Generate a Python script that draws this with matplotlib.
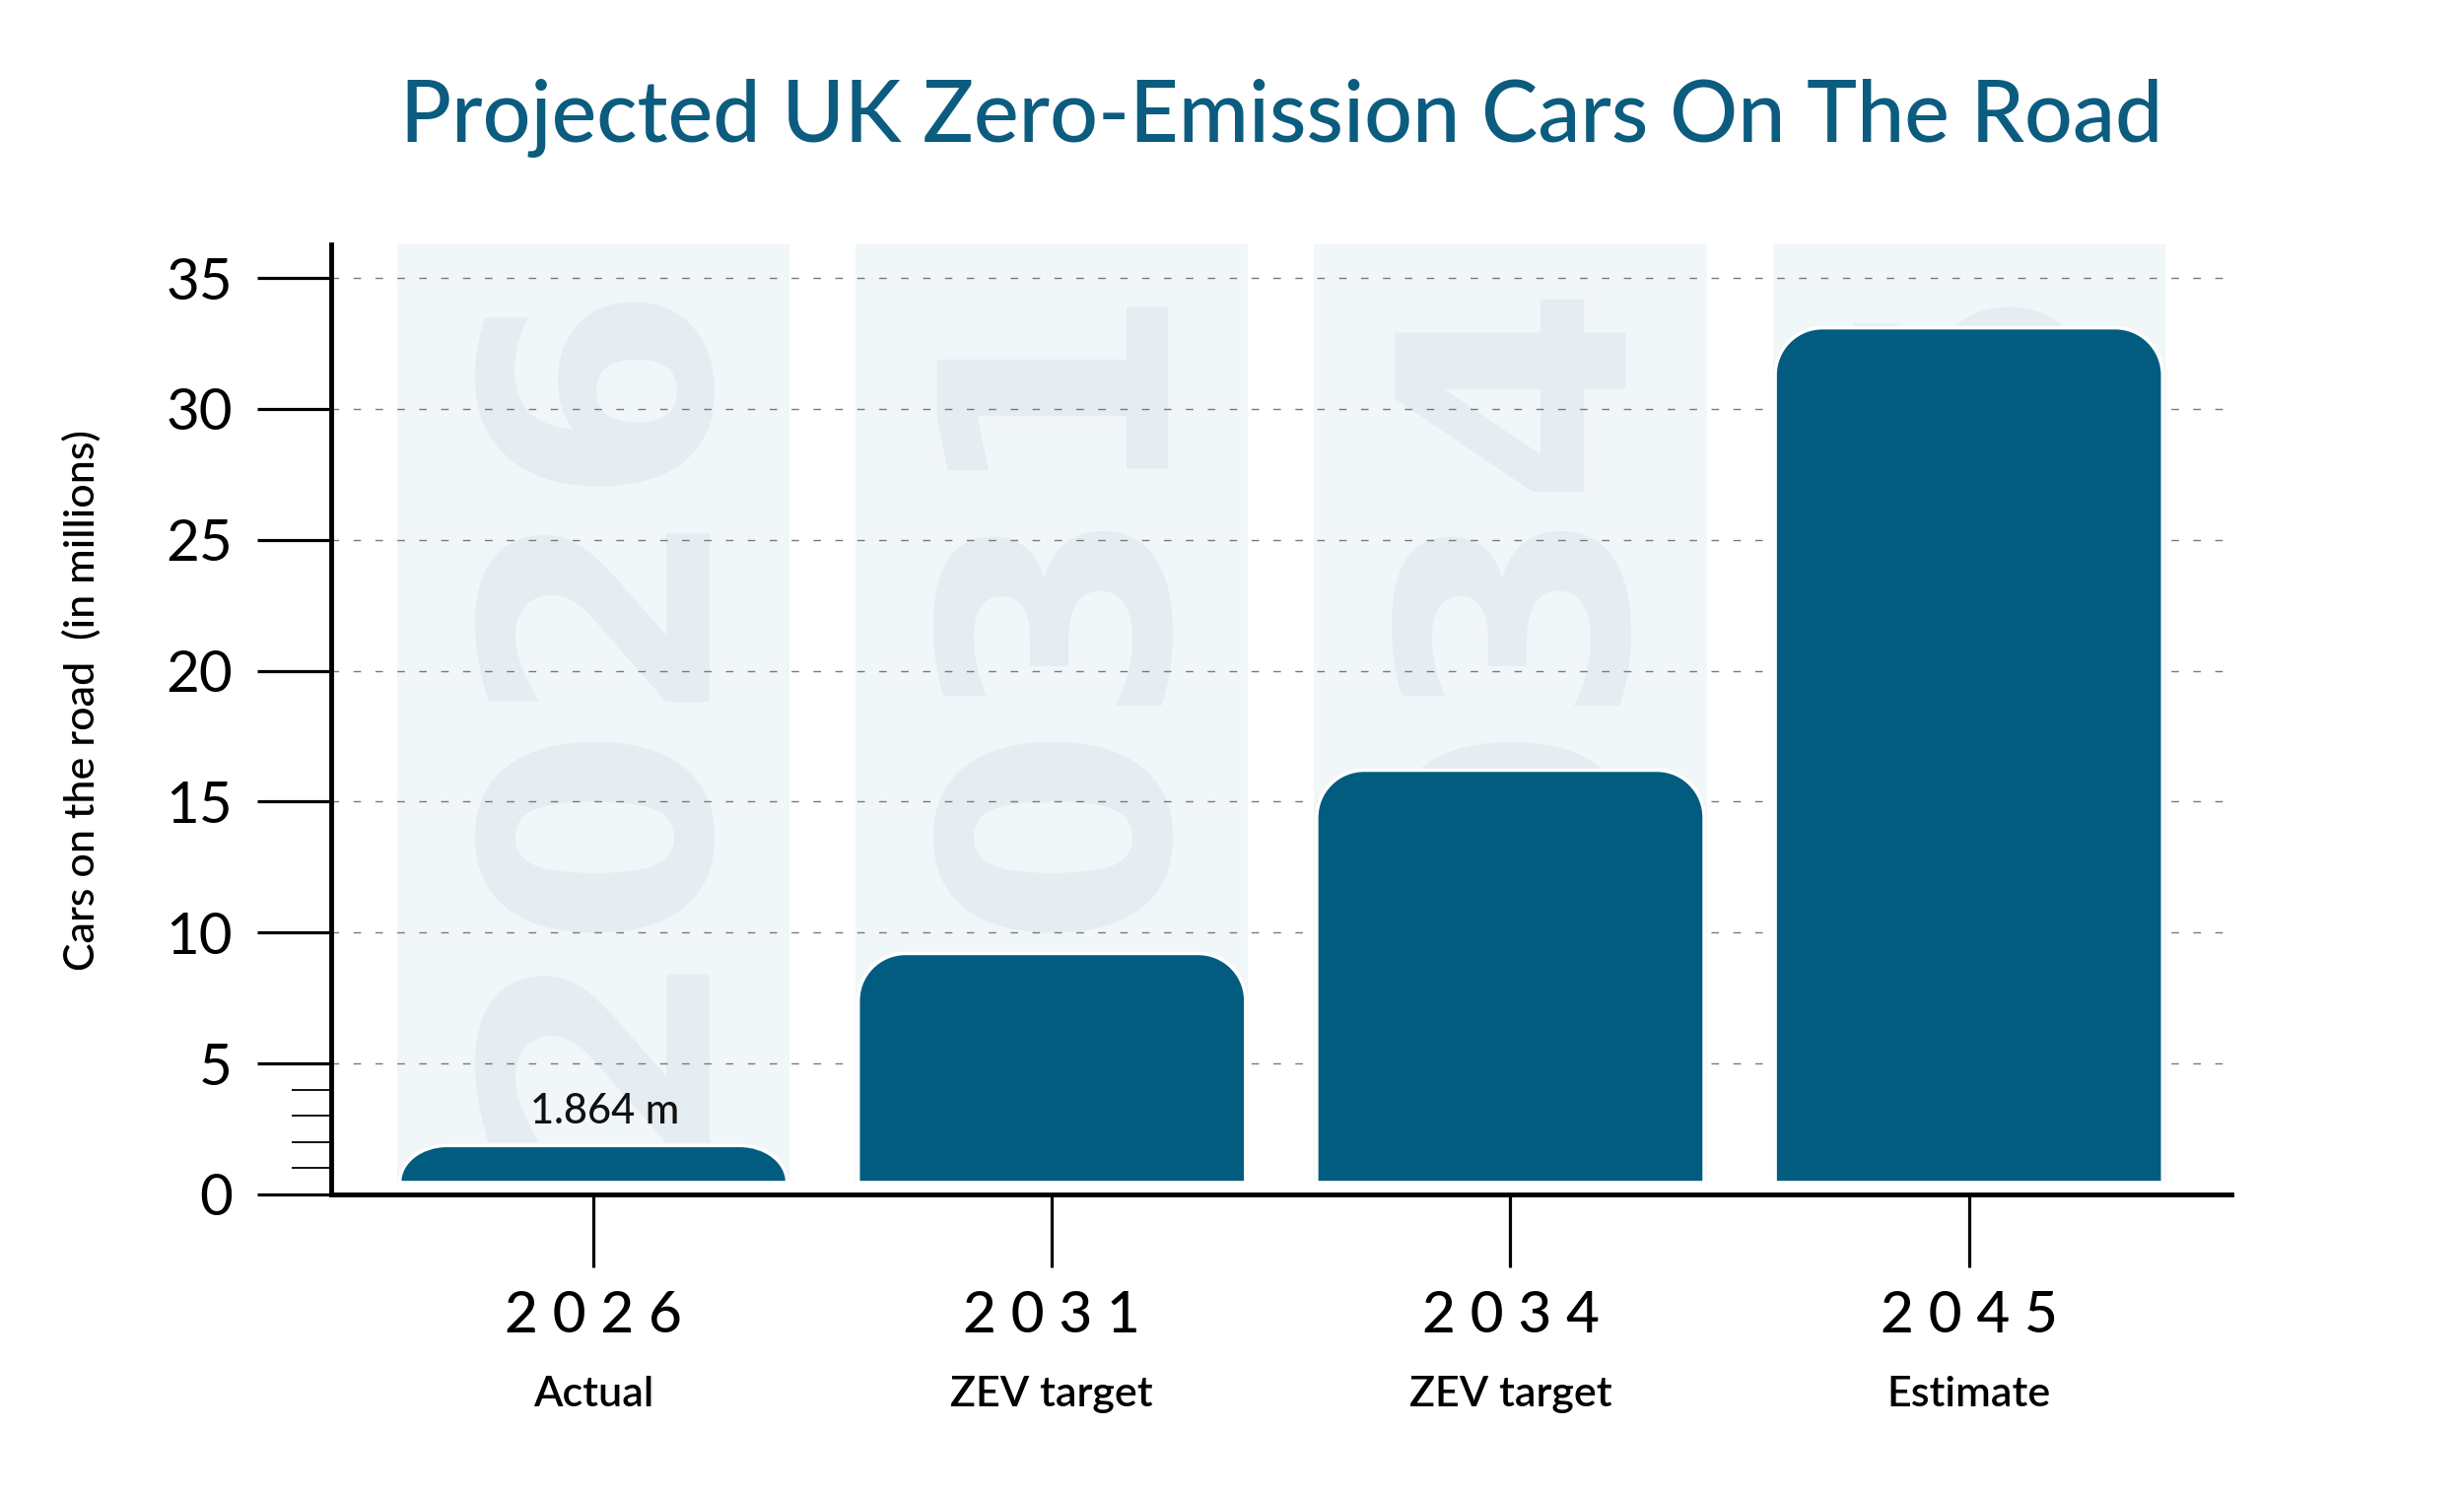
import numpy as np
import matplotlib
matplotlib.use("Agg")
import matplotlib.pyplot as plt
from matplotlib.path import Path
from matplotlib.patches import PathPatch, Rectangle

# data
years = ["2026", "2031", "2034", "2045"]
notes = ["Actual", "ZEV target", "ZEV target", "Estimate"]
cars_m = [1.864, 9.2, 16.2, 33.1]
value_label = "1.864 m"

BLUE = "#015c80"
TITLE_BLUE = "#0b5c7f"
BAND = "#f1f6f9"
BAND_TEXT = "#e5edf2"

plt.rcParams["font.family"] = ["Lato", "DejaVu Sans"]


def top_rounded_bar(ax, x, w, y0, y1, r_px, **kw):
    # rounded top corners, radius given in pixels
    sx = ax.transData.transform([(1, 0)])[0][0] - ax.transData.transform([(0, 0)])[0][0]
    sy = ax.transData.transform([(0, 1)])[0][1] - ax.transData.transform([(0, 0)])[0][1]
    rx = r_px / sx
    ry = min(r_px / sy, y1 - y0)
    k = 0.5523
    l, r = x - w / 2, x + w / 2
    verts = [(l, y0), (l, y1 - ry),
             (l, y1 - ry + k * ry), (l + rx - k * rx, y1), (l + rx, y1),
             (r - rx, y1),
             (r - rx + k * rx, y1), (r, y1 - ry + k * ry), (r, y1 - ry),
             (r, y0), (l, y0)]
    codes = [Path.MOVETO, Path.LINETO,
             Path.CURVE4, Path.CURVE4, Path.CURVE4,
             Path.LINETO,
             Path.CURVE4, Path.CURVE4, Path.CURVE4,
             Path.LINETO, Path.CLOSEPOLY]
    p = PathPatch(Path(verts, codes), **kw)
    ax.add_patch(p)
    return p


fig = plt.figure(figsize=(25, 15.19), dpi=100)
ax = fig.add_axes([0.1344, 0.2022, 0.7711, 0.6348])
ax.set_xlim(-0.572, 3.572)
ax.set_ylim(0, 36.3)

xs = np.arange(len(years))
base = 0.45
for i, x in enumerate(xs):
    band = Rectangle((x - 0.428, base), 0.856, 36.3 - base, facecolor=BAND,
                     edgecolor="none", zorder=0.2)
    ax.add_patch(band)
    t = ax.text(x + 0.01, 2.0, years[i], rotation=90, ha="center", va="bottom",
                fontsize=232, fontweight="bold", color=BAND_TEXT,
                family="DejaVu Sans", zorder=0.3)
    t.set_clip_path(band)
    top_rounded_bar(ax, x, 0.845, base, cars_m[i], 48, facecolor=BLUE,
                    edgecolor="white", linewidth=2.5, zorder=3)

ax.annotate(value_label, (xs[0], cars_m[0]), xytext=(8, 25), textcoords="offset points",
            ha="center", va="center", fontsize=30, fontweight="medium", color="#111111")

# grid
ax.set_axisbelow(True)
ax.yaxis.grid(True, color="#7a7a7a", linewidth=1.0, dashes=(5.5, 10.5))

# axes styling
for s in ["top", "right"]:
    ax.spines[s].set_visible(False)
for s in ["left", "bottom"]:
    ax.spines[s].set_linewidth(3.5)
    ax.spines[s].set_color("black")

ax.set_yticks(np.arange(0, 36, 5))
ax.set_yticks([1, 2, 3, 4], minor=True)
ax.tick_params(axis="y", which="major", length=54, width=2.3, pad=18, labelsize=42)
ax.tick_params(axis="y", which="minor", length=29, width=1.3)
ax.set_xticks(xs)
ax.set_xticklabels([""] * len(xs))
ax.tick_params(axis="x", which="major", length=53, width=2.3)

for x, yr, nt in zip(xs, years, notes):
    ax.annotate(" ".join(yr), (x, 0), xycoords=("data", "axes fraction"),
                xytext=(0, -89), textcoords="offset points", ha="center", va="center",
                fontsize=42, fontweight="medium", color="black")
    ax.annotate(nt, (x, 0), xycoords=("data", "axes fraction"),
                xytext=(0, -146), textcoords="offset points", ha="center", va="center",
                fontsize=31, fontweight="semibold", color="black")

ax.set_ylabel("Cars on the road  (in millions)", fontsize=31, fontweight="medium")
ax.yaxis.set_label_coords(-0.121, 0.52)

fig.text(0.52, 0.921, "Projected UK Zero-Emission Cars On The Road", ha="center",
         va="center", fontsize=62, fontweight="medium", color=TITLE_BLUE)

fig.savefig("out.png", dpi=100)
